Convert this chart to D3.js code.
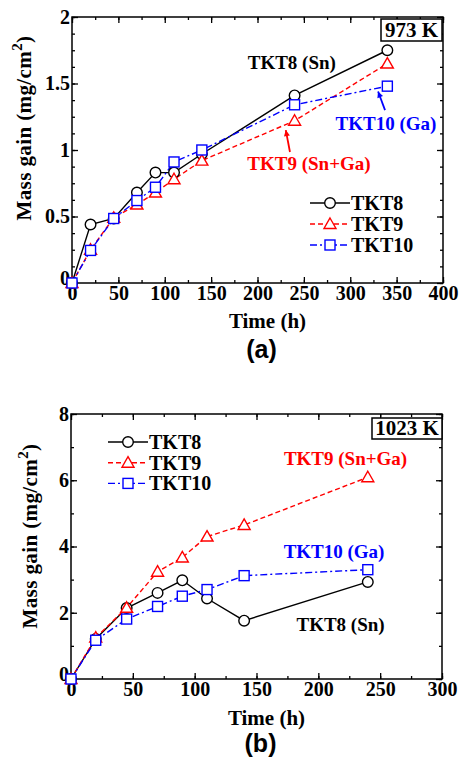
<!DOCTYPE html>
<html><head><meta charset="utf-8">
<script src="https://cdn.jsdelivr.net/npm/d3@7"></script>
<style>
body{margin:0;background:#fff;}
svg{display:block;}
text{font-family:"Liberation Serif","Times New Roman",serif;font-weight:bold;}
</style></head>
<body>
<script>
// ---- data (a) 973 K ----
const timeA = [0, 20, 45, 70, 90, 110, 140, 240, 340];
const tkt8A  = [0, 0.44, 0.485, 0.68, 0.83, 0.83, 0.97, 1.41, 1.75];
const tkt9A  = [0, 0.25, 0.49, 0.59, 0.68, 0.78, 0.92, 1.22, 1.65];
const tkt10A = [0, 0.245, 0.485, 0.62, 0.72, 0.91, 1.0, 1.34, 1.48];
// ---- data (b) 1023 K ----
const timeB = [0, 20, 45, 70, 90, 110, 140, 240];
const tkt8B  = [0, 1.21, 2.14, 2.6, 2.98, 2.43, 1.76, 2.93];
const tkt9B  = [0, 1.25, 2.15, 3.24, 3.67, 4.3, 4.65, 6.09];
const tkt10B = [0, 1.17, 1.81, 2.19, 2.5, 2.7, 3.12, 3.3];

const seriesNames = ["TKT8", "TKT9", "TKT10"];
const xTicksA = [0, 50, 100, 150, 200, 250, 300, 350, 400];
const yTicksA = [0, 0.5, 1, 1.5, 2];
const xTicksB = [0, 50, 100, 150, 200, 250, 300];
const yTicksB = [0, 2, 4, 6, 8];

const styles = {
  TKT8:  {color:"#000000", dash:null, marker:"circle"},
  TKT9:  {color:"#ff0000", dash:"5,3", marker:"triangle"},
  TKT10: {color:"#0000ff", dash:"7,3,2,3", marker:"square"}
};

const svg = d3.select("body").append("svg").attr("width",459).attr("height",759);

function panel(cfg){
  const {left,right,top,bottom,xDom,yDom,xTicks,yTicks,xMinor,yMinor,time,series,tempLabel,tempBox,legend,labels,arrows,yTitleX,yTitleY,xTitleY,panelLabel,panelLabelY} = cfg;
  const x = d3.scaleLinear().domain(xDom).range([left,right]);
  const y = d3.scaleLinear().domain(yDom).range([bottom,top]);
  const g = svg.append("g");

  // minor ticks
  const minorX = d3.range(xDom[0], xDom[1]+1e-9, xMinor);
  const minorY = d3.range(yDom[0], yDom[1]+1e-9, yMinor);
  const axStyle = s => s.call(a=>a.select(".domain").remove()).selectAll("line").attr("stroke","#000").attr("stroke-width",1.3);
  g.append("g").attr("transform",`translate(0,${bottom})`).call(d3.axisBottom(x).tickValues(minorX).tickSize(-3).tickFormat("")).call(axStyle);
  g.append("g").attr("transform",`translate(0,${top})`).call(d3.axisTop(x).tickValues(minorX).tickSize(-3).tickFormat("")).call(axStyle);
  g.append("g").attr("transform",`translate(${left},0)`).call(d3.axisLeft(y).tickValues(minorY).tickSize(-3).tickFormat("")).call(axStyle);
  g.append("g").attr("transform",`translate(${right},0)`).call(d3.axisRight(y).tickValues(minorY).tickSize(-3).tickFormat("")).call(axStyle);
  // major ticks with labels
  const xb = g.append("g").attr("transform",`translate(0,${bottom})`).call(d3.axisBottom(x).tickValues(xTicks).tickSize(-6).tickPadding(3).tickFormat(d3.format("")));
  xb.select(".domain").remove();
  xb.selectAll("line").attr("stroke","#000").attr("stroke-width",1.3);
  xb.selectAll("text").style("font-size","20px").attr("fill","#000");
  const yl = g.append("g").attr("transform",`translate(${left},0)`).call(d3.axisLeft(y).tickValues(yTicks).tickSize(-6).tickPadding(2).tickFormat(d3.format("")));
  yl.select(".domain").remove();
  yl.selectAll("line").attr("stroke","#000").attr("stroke-width",1.3);
  yl.selectAll("text").style("font-size","20px").attr("fill","#000")
    .attr("dy", d => d===0 ? "0.05em" : "0.32em");
  g.append("g").attr("transform",`translate(0,${top})`).call(d3.axisTop(x).tickValues(xTicks).tickSize(-6).tickFormat("")).call(axStyle);
  g.append("g").attr("transform",`translate(${right},0)`).call(d3.axisRight(y).tickValues(yTicks).tickSize(-6).tickFormat("")).call(axStyle);

  // frame
  g.append("rect").attr("x",left).attr("y",top).attr("width",right-left).attr("height",bottom-top)
    .attr("fill","none").attr("stroke","#000").attr("stroke-width",1.5);

  // temperature box
  const tb = g.append("g");
  tb.append("rect").attr("x",right-tempBox.w-tempBox.dx).attr("y",top+tempBox.dy).attr("width",tempBox.w).attr("height",tempBox.h)
    .attr("fill","#fff").attr("stroke","#000").attr("stroke-width",1.5);
  tb.append("text").attr("x",right-tempBox.dx-tempBox.w/2).attr("y",top+tempBox.dy+tempBox.h-4).attr("text-anchor","middle")
    .style("font-size","21px").text(tempLabel);

  // series
  const line = d3.line().x(d=>x(d[0])).y(d=>y(d[1]));
  seriesNames.forEach((name,i)=>{
    const st = styles[name];
    const pts = time.map((t,j)=>[t,series[i][j]]);
    g.append("path").datum(pts).attr("d",line).attr("fill","none").attr("stroke",st.color)
      .attr("stroke-width",1.4).attr("stroke-dasharray",st.dash);
  });
  seriesNames.forEach((name,i)=>{
    const st = styles[name];
    const pts = time.map((t,j)=>[t,series[i][j]]);
    pts.forEach(p=>drawMarker(g, st, x(p[0]), y(p[1])));
  });

  // legend
  seriesNames.forEach((name,i)=>{
    const st = styles[name];
    const ly = legend.y + i*legend.dy;
    g.append("line").attr("x1",legend.x).attr("x2",legend.x+40).attr("y1",ly).attr("y2",ly)
      .attr("stroke",st.color).attr("stroke-width",1.4).attr("stroke-dasharray",st.dash);
    drawMarker(g, st, legend.x+20, ly);
    g.append("text").attr("x",legend.x+41).attr("y",ly+7).style("font-size","20px").text(name);
  });

  // annotations
  labels.forEach(l=>{
    g.append("text").attr("x",x(l.t)).attr("y",y(l.v)).attr("text-anchor","middle").style("font-size","19px")
      .attr("fill",l.color).text(l.text);
  });
  arrows.forEach(a=>{
    const x1=x(a.t1), y1=y(a.v1), x2=x(a.t2), y2=y(a.v2);
    g.append("line").attr("x1",x1).attr("y1",y1).attr("x2",x2).attr("y2",y2).attr("stroke",a.color).attr("stroke-width",1.8);
    const ang = Math.atan2(y2-y1,x2-x1);
    const L=6, W=3;
    const p = [[x2,y2],[x2-L*Math.cos(ang)+W*Math.sin(ang), y2-L*Math.sin(ang)-W*Math.cos(ang)],[x2-L*Math.cos(ang)-W*Math.sin(ang), y2-L*Math.sin(ang)+W*Math.cos(ang)]];
    g.append("path").attr("d","M"+p.join("L")+"Z").attr("fill",a.color);
  });

  // axis titles
  g.append("text").attr("x",(left+right)/2+10).attr("y",xTitleY).attr("text-anchor","middle").style("font-size","21px").text("Time (h)");
  const yt = g.append("text").attr("transform",`translate(${yTitleX},${yTitleY}) rotate(-90)`).attr("text-anchor","middle")
    .style("font-size","21px").style("letter-spacing","0.4px");
  yt.append("tspan").text("Mass gain (mg/cm");
  yt.append("tspan").attr("dy",-9).style("font-size","15px").text("2");
  yt.append("tspan").attr("dy",9).text(")");
  g.append("text").attr("x",(left+right)/2+4).attr("y",panelLabelY).attr("text-anchor","middle")
    .style("font-family",'"Liberation Sans",Arial,sans-serif').style("font-size","25px").text(panelLabel);
}

function drawMarker(g, st, cx, cy){
  if(st.marker==="circle"){
    g.append("circle").attr("cx",cx).attr("cy",cy).attr("r",5.3).attr("fill","#fff").attr("stroke",st.color).attr("stroke-width",1.4);
  } else if(st.marker==="square"){
    g.append("rect").attr("x",cx-5).attr("y",cy-5).attr("width",10).attr("height",10).attr("fill","#fff").attr("stroke",st.color).attr("stroke-width",1.4);
  } else {
    const s=6;
    g.append("path").attr("d",`M${cx},${cy-s}L${cx+s*1.0},${cy+s*0.75}L${cx-s*1.0},${cy+s*0.75}Z`).attr("fill","#fff").attr("stroke",st.color).attr("stroke-width",1.4);
  }
}

panel({
  left:72, right:443, top:17, bottom:283,
  xDom:[0,400], yDom:[0,2], xTicks:xTicksA, yTicks:yTicksA, xMinor:25, yMinor:0.125,
  time:timeA, series:[tkt8A,tkt9A,tkt10A],
  tempLabel:"973 K", tempBox:{w:61,h:22,dx:1,dy:2},
  legend:{x:310,y:203,dy:21},
  labels:[
    {text:"TKT8 (Sn)", t:237, v:1.61, color:"#000"},
    {text:"TKT10 (Ga)", t:338.5, v:1.15, color:"#0000ff"},
    {text:"TKT9 (Sn+Ga)", t:255.5, v:0.85, color:"#ff0000"}
  ],
  arrows:[
    {t1:337.5, v1:1.30, t2:330, v2:1.44, color:"#0000ff"},
    {t1:235, v1:0.985, t2:230.5, v2:1.15, color:"#ff0000"}
  ],
  yTitleX:31, yTitleY:128, xTitleY:328, panelLabel:"(a)", panelLabelY:358
});

panel({
  left:71, right:442, top:414, bottom:679,
  xDom:[0,300], yDom:[0,8], xTicks:xTicksB, yTicks:yTicksB, xMinor:25, yMinor:1,
  time:timeB, series:[tkt8B,tkt9B,tkt10B],
  tempLabel:"1023 K", tempBox:{w:70,h:21,dx:0,dy:4},
  legend:{x:108,y:442,dy:20.7},
  labels:[
    {text:"TKT9 (Sn+Ga)", t:222, v:6.45, color:"#ff0000"},
    {text:"TKT10 (Ga)", t:212.7, v:3.64, color:"#0000ff"},
    {text:"TKT8 (Sn)", t:218, v:1.46, color:"#000"}
  ],
  arrows:[],
  yTitleX:37, yTitleY:536, xTitleY:725, panelLabel:"(b)", panelLabelY:752
});
</script>
</body></html>
